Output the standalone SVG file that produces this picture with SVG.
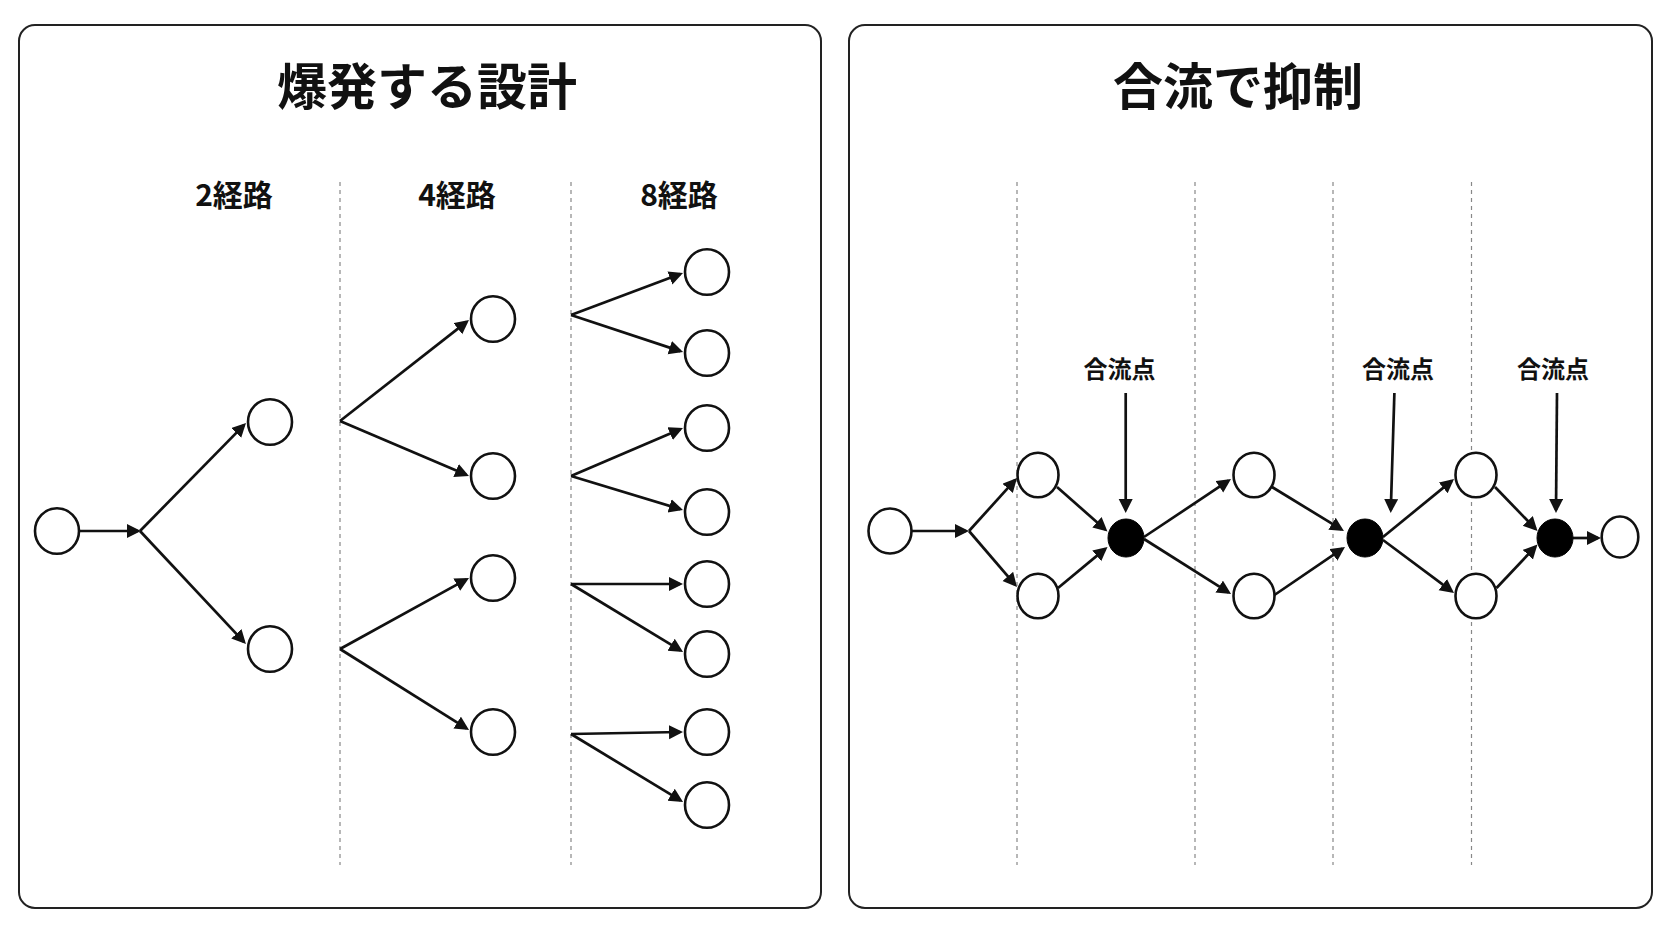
<svg xmlns="http://www.w3.org/2000/svg" width="1672" height="941" viewBox="0 0 1672 941">
<defs>
<style>
.panel{fill:#ffffff;stroke:#222;stroke-width:2}
.title{font-family:"Noto Sans CJK JP","Noto Sans",sans-serif;font-weight:700;font-size:50px;fill:#111;text-anchor:middle}
.col{font-family:"Noto Sans CJK JP","Noto Sans",sans-serif;font-weight:700;font-size:30px;fill:#111;text-anchor:middle}
.lab{font-family:"Noto Sans CJK JP","Noto Sans",sans-serif;font-weight:700;font-size:24px;fill:#111;text-anchor:middle}
.dash{stroke:#888;stroke-width:1.2;stroke-dasharray:4 4;fill:none}
.node{fill:#fff;stroke:#111;stroke-width:2.6}
.merge{fill:#000;stroke:#000;stroke-width:1}
.edge{stroke:#111;stroke-width:2.7;fill:none;marker-end:url(#ah)}
</style>
<marker id="ah" markerUnits="userSpaceOnUse" markerWidth="16" markerHeight="16" refX="11" refY="7" orient="auto">
<path d="M0,0 L14,7 L0,14 Z" fill="#111"/>
</marker>
</defs>
<rect width="1672" height="941" fill="#ffffff"/>

<g id="panel-left">
<rect class="panel" x="19" y="25" width="802" height="883" rx="16"/>
<text class="title" x="427" y="105">爆発する設計</text>
<text class="col" x="234" y="206">2経路</text>
<text class="col" x="457" y="206">4経路</text>
<text class="col" x="679" y="206">8経路</text>
<line class="dash" x1="340" y1="182" x2="340" y2="865"/>
<line class="dash" x1="571" y1="182" x2="571" y2="865"/>
</g>

<g id="panel-right">
<rect class="panel" x="849" y="25" width="803" height="883" rx="16"/>
<text class="title" x="1238" y="105">合流で抑制</text>
<line class="dash" x1="1017" y1="182" x2="1017" y2="865"/>
<line class="dash" x1="1195" y1="182" x2="1195" y2="865"/>
<line class="dash" x1="1333" y1="182" x2="1333" y2="865"/>
<line class="dash" x1="1471.5" y1="182" x2="1471.5" y2="865"/>
<text class="lab" x="1119.5" y="378">合流点</text>
<text class="lab" x="1398" y="378">合流点</text>
<text class="lab" x="1553" y="378">合流点</text>
</g>

<g id="connectors">
<line class="edge" x1="79" y1="531" x2="138" y2="531"/>
<line class="edge" x1="140" y1="531" x2="243.9" y2="425.1"/>
<line class="edge" x1="140" y1="531" x2="243.9" y2="641.8"/>
<line class="edge" x1="340" y1="421" x2="466.6" y2="321.9"/>
<line class="edge" x1="340" y1="421" x2="466.2" y2="474.8"/>
<line class="edge" x1="340" y1="649" x2="466.4" y2="579.4"/>
<line class="edge" x1="340" y1="649" x2="466.5" y2="728.4"/>
<line class="edge" x1="571" y1="315" x2="680.2" y2="274.1"/>
<line class="edge" x1="571" y1="315" x2="680.2" y2="351.1"/>
<line class="edge" x1="571" y1="476" x2="680.2" y2="429.2"/>
<line class="edge" x1="571" y1="476" x2="680.1" y2="509.1"/>
<line class="edge" x1="571" y1="584" x2="680" y2="584"/>
<line class="edge" x1="571" y1="584" x2="680.5" y2="650.4"/>
<line class="edge" x1="571" y1="734" x2="680" y2="732"/>
<line class="edge" x1="571" y1="734" x2="680.5" y2="800.4"/>

<line class="edge" x1="911" y1="531" x2="966" y2="531"/>
<line class="edge" x1="969" y1="531" x2="1015" y2="480.2"/>
<line class="edge" x1="969" y1="531" x2="1015" y2="584.7"/>
<line class="edge" x1="1057" y1="487" x2="1105.2" y2="529.5"/>
<line class="edge" x1="1058" y1="588" x2="1105.2" y2="548.9"/>
<line class="edge" x1="1144" y1="537" x2="1228.5" y2="480.7"/>
<line class="edge" x1="1144" y1="539" x2="1228.5" y2="592.4"/>
<line class="edge" x1="1272" y1="487" x2="1341.4" y2="529.4"/>
<line class="edge" x1="1273" y1="596" x2="1342.5" y2="548.7"/>
<line class="edge" x1="1383" y1="537" x2="1451.7" y2="480.9"/>
<line class="edge" x1="1383" y1="540" x2="1451.6" y2="591.2"/>
<line class="edge" x1="1495" y1="487" x2="1535.4" y2="528.8"/>
<line class="edge" x1="1496.5" y1="588" x2="1535.4" y2="546.7"/>
<line class="edge" x1="1573" y1="538" x2="1598" y2="538"/>
<line class="edge" x1="1125.7" y1="393" x2="1125.7" y2="510"/>
<line class="edge" x1="1394.4" y1="393" x2="1390.8" y2="510"/>
<line class="edge" x1="1557" y1="393" x2="1556" y2="510"/>
</g>

<g id="n-l0"><ellipse class="node" cx="57" cy="531" rx="22" ry="22.8"/></g>
<g id="n-l2a"><ellipse class="node" cx="270" cy="422" rx="22" ry="22.8"/></g>
<g id="n-l2b"><ellipse class="node" cx="270" cy="649" rx="22" ry="22.8"/></g>
<g id="n-l4a"><ellipse class="node" cx="493" cy="319" rx="22" ry="22.8"/></g>
<g id="n-l4b"><ellipse class="node" cx="493" cy="476" rx="22" ry="22.8"/></g>
<g id="n-l4c"><ellipse class="node" cx="493" cy="578" rx="22" ry="22.8"/></g>
<g id="n-l4d"><ellipse class="node" cx="493" cy="732" rx="22" ry="22.8"/></g>
<g id="n-l8a"><ellipse class="node" cx="707" cy="272" rx="22" ry="22.8"/></g>
<g id="n-l8b"><ellipse class="node" cx="707" cy="353" rx="22" ry="22.8"/></g>
<g id="n-l8c"><ellipse class="node" cx="707" cy="428" rx="22" ry="22.8"/></g>
<g id="n-l8d"><ellipse class="node" cx="707" cy="512" rx="22" ry="22.8"/></g>
<g id="n-l8e"><ellipse class="node" cx="707" cy="584" rx="22" ry="22.8"/></g>
<g id="n-l8f"><ellipse class="node" cx="707" cy="654" rx="22" ry="22.8"/></g>
<g id="n-l8g"><ellipse class="node" cx="707" cy="732" rx="22" ry="22.8"/></g>
<g id="n-l8h"><ellipse class="node" cx="707" cy="805" rx="22" ry="22.8"/></g>

<g id="n-r0"><ellipse class="node" cx="890" cy="531" rx="21.5" ry="22.5"/></g>
<g id="n-r1a"><ellipse class="node" cx="1038" cy="475" rx="20.5" ry="22.3"/></g>
<g id="n-r1b"><ellipse class="node" cx="1038" cy="596" rx="20.5" ry="22.3"/></g>
<g id="n-k1"><ellipse class="merge" cx="1126" cy="538" rx="18" ry="19"/></g>
<g id="n-r2a"><ellipse class="node" cx="1254" cy="475" rx="20.5" ry="22.3"/></g>
<g id="n-r2b"><ellipse class="node" cx="1254" cy="596" rx="20.5" ry="22.3"/></g>
<g id="n-k2"><ellipse class="merge" cx="1365" cy="538" rx="18" ry="19"/></g>
<g id="n-r3a"><ellipse class="node" cx="1476" cy="475" rx="20.5" ry="22.3"/></g>
<g id="n-r3b"><ellipse class="node" cx="1476" cy="596" rx="20.5" ry="22.3"/></g>
<g id="n-k3"><ellipse class="merge" cx="1555" cy="538" rx="18" ry="19"/></g>
<g id="n-rend"><ellipse class="node" cx="1620" cy="537" rx="18.3" ry="20.5"/></g>
</svg>
